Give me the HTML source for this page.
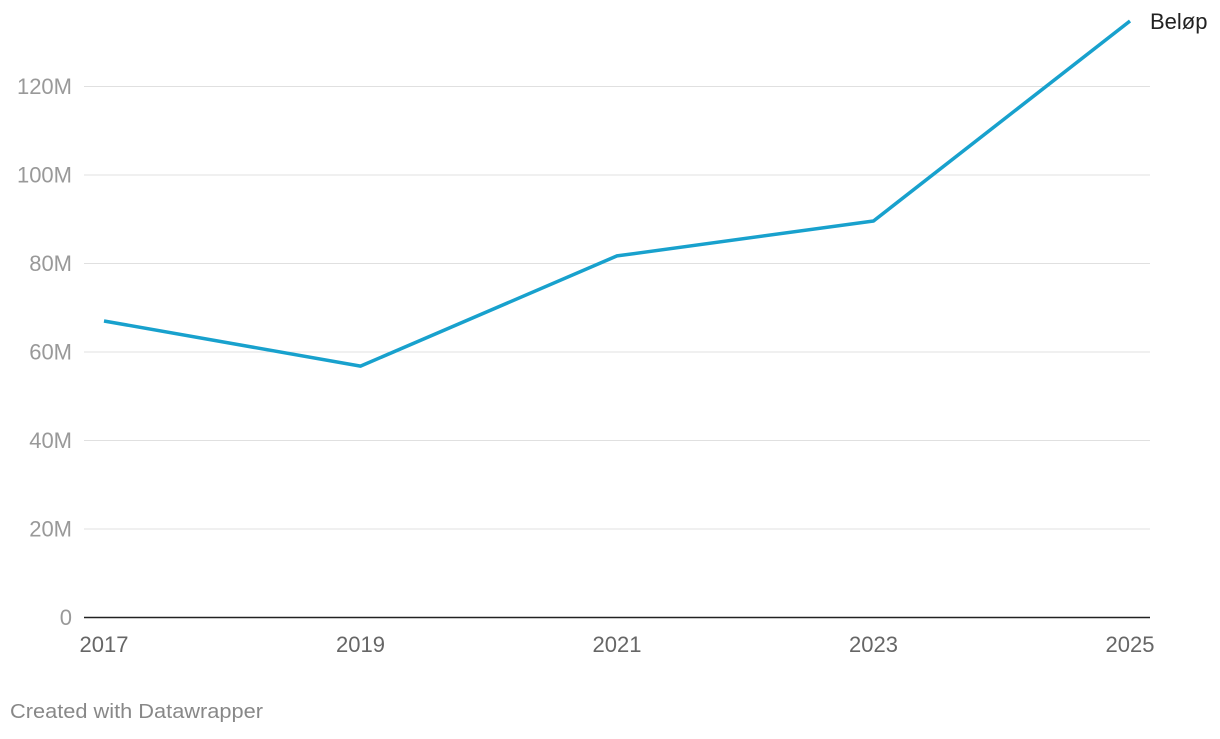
<!DOCTYPE html>
<html><head><meta charset="utf-8"><style>
body{margin:0;background:#fff;width:1220px;height:734px;overflow:hidden;font-family:"Liberation Sans",sans-serif}
</style></head><body>
<svg width="1220" height="734" id="chart">
<g id="grid"></g>
<g id="yl"></g>
<g id="xl"></g>
<line x1="84" x2="1150" y1="617.5" y2="617.5" stroke="#222" stroke-width="1.5"/>
<path id="line" fill="none" stroke="#18a1cd" stroke-width="3.5" stroke-linejoin="round"/>
<text id="lab" x="1150" y="29" font-size="22" fill="#222">Beløp</text>
<text x="10" y="718" font-size="20" fill="#888" textLength="253" lengthAdjust="spacingAndGlyphs">Created with Datawrapper</text>
</svg>
<script>
const years=[2017,2019,2021,2023,2025];
const values=[66.9,56.7,81.6,89.5,134.7];
const yTicks=[0,20,40,60,80,100,120];
const yTickLabels=["0","20M","40M","60M","80M","100M","120M"];
const xTicks=[2017,2019,2021,2023,2025];
const ns="http://www.w3.org/2000/svg";
const x=v=>104+(v-2017)/8*1026;
const y=v=>617-v*(531/120);
const grid=document.getElementById('grid'),yl=document.getElementById('yl'),xl=document.getElementById('xl');
yTicks.forEach((t,i)=>{
 if(t>0){const l=document.createElementNS(ns,'line');
 
 
 l.setAttribute('x1',84);l.setAttribute('x2',1150);l.setAttribute('y1',y(t)+0.5);l.setAttribute('y2',y(t)+0.5);
 l.setAttribute('stroke','#e0e0e0');l.setAttribute('stroke-width','1');grid.appendChild(l);}
 const tx=document.createElementNS(ns,'text');
 
 
 tx.setAttribute('x',72);tx.setAttribute('y',y(t)+8);tx.setAttribute('text-anchor','end');
 tx.setAttribute('font-size','22');tx.setAttribute('fill','#999');tx.textContent=yTickLabels[i];yl.appendChild(tx);
});
xTicks.forEach(t=>{
 const tx=document.createElementNS(ns,'text');
 
 
 tx.setAttribute('x',x(t));tx.setAttribute('y',652);tx.setAttribute('text-anchor','middle');
 tx.setAttribute('font-size','22');tx.setAttribute('fill','#666');tx.textContent=t;xl.appendChild(tx);
});
document.getElementById('line').setAttribute('d',years.map((yr,i)=>(i?'L':'M')+x(yr)+','+y(values[i])).join(' '));
document.getElementById('lab').setAttribute('y',y(values[values.length-1])+8);
</script>
</body></html>
